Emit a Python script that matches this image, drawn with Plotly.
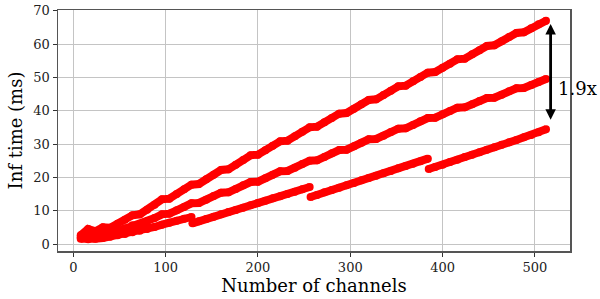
import plotly.graph_objects as go

# Number of channels (shared grid for the two upper series)
channels = list(range(8, 513, 8))

# Upper series (ms)
top_ms = [2.6, 4.5, 3.8, 5.0, 4.9, 6.1, 7.3, 8.6, 8.9, 10.3, 11.8, 13.4,
          13.6, 15.0, 16.4, 17.8, 18.0, 19.4, 20.8, 22.2, 22.4, 23.8, 25.2, 26.6,
          26.8, 28.1, 29.5, 30.8, 31.0, 32.3, 33.7, 35.0, 35.2, 36.5, 37.8, 39.1,
          39.3, 40.6, 41.9, 43.2, 43.4, 44.7, 46.0, 47.3, 47.5, 48.8, 50.1, 51.4,
          51.6, 52.9, 54.1, 55.4, 55.6, 56.9, 58.1, 59.4, 59.6, 60.8, 62.1, 63.3,
          63.5, 64.7, 65.9, 67.0]

# Middle series (ms)
mid_ms = [2.0, 2.6, 2.3, 3.1, 3.0, 3.8, 4.7, 5.6, 5.8, 6.8, 7.8, 8.9,
          9.1, 10.1, 11.1, 12.2, 12.3, 13.3, 14.4, 15.4, 15.5, 16.5, 17.6, 18.6,
          18.7, 19.7, 20.8, 21.8, 21.9, 22.9, 24.0, 25.0, 25.1, 26.1, 27.2, 28.2,
          28.3, 29.3, 30.4, 31.4, 31.5, 32.5, 33.6, 34.6, 34.7, 35.7, 36.8, 37.8,
          37.9, 38.9, 39.9, 40.9, 41.0, 41.9, 42.9, 43.8, 43.9, 44.8, 45.8, 46.7,
          46.8, 47.7, 48.6, 49.5]

# Lower series: four pieces (channels, ms)
low_channels = [8, 16, 24, 32, 40, 48, 56, 64, 72, 80, 88, 96, 104, 112, 120, 128,
                129, 136, 144, 152, 160, 168, 176, 184, 192, 200, 208, 216, 224, 232, 240, 248, 256,
                257, 264, 272, 280, 288, 296, 304, 312, 320, 328, 336, 344, 352, 360, 368, 376, 384,
                385, 392, 400, 408, 416, 424, 432, 440, 448, 456, 464, 472, 480, 488, 496, 504, 512]
low_ms = [1.6, 1.4, 1.6, 1.8, 2.2, 2.6, 3.0, 3.5, 4.0, 4.5, 5.1, 5.8, 6.4, 7.0, 7.6, 8.1,
          6.2, 6.8, 7.5, 8.2, 8.9, 9.6, 10.2, 10.9, 11.6, 12.3, 13.0, 13.7, 14.3, 15.0, 15.7, 16.4, 17.1,
          14.1, 14.7, 15.5, 16.2, 16.9, 17.6, 18.3, 19.1, 19.8, 20.5, 21.2, 21.9, 22.7, 23.4, 24.1, 24.8, 25.6,
          22.5, 23.1, 23.8, 24.6, 25.3, 26.1, 26.8, 27.5, 28.3, 29.0, 29.8, 30.5, 31.2, 32.0, 32.7, 33.5, 34.4]

# Speed-up annotation
ratio_label = "1.9x"
arrow_channel = 517
arrow_top_ms = 66.0
arrow_bottom_ms = 36.8

x_ticks = [0, 100, 200, 300, 400, 500]
y_ticks = [0, 10, 20, 30, 40, 50, 60, 70]

RED = "#ff0000"
FONT = "DejaVu Serif"

# break the lower series where a new piece starts
lx, ly = [], []
for i, (c, v) in enumerate(zip(low_channels, low_ms)):
    if i > 0 and v < low_ms[i - 1] - 1.5:
        lx.append(None)
        ly.append(None)
    lx.append(c)
    ly.append(v)

fig = go.Figure()
for xs, ys in [(channels, top_ms), (channels, mid_ms), (lx, ly)]:
    fig.add_trace(go.Scatter(
        x=xs, y=ys, mode="lines+markers",
        line=dict(color=RED, width=8),
        marker=dict(color=RED, size=8, line=dict(width=0)),
        connectgaps=False, showlegend=False, hoverinfo="skip",
    ))

fig.add_annotation(
    x=arrow_channel, y=arrow_top_ms, ax=arrow_channel, ay=arrow_bottom_ms,
    xref="x", yref="y", axref="x", ayref="y", text="", showarrow=True,
    arrowhead=2, arrowsize=0.75, arrowwidth=2.8, arrowcolor="black",
    arrowside="end+start", startarrowhead=2, startarrowsize=0.75,
    standoff=0, startstandoff=0,
)
fig.add_annotation(
    x=523, y=46.8, xref="x", yref="y", text=ratio_label, showarrow=False,
    xanchor="left", yanchor="middle", font=dict(family=FONT, size=18, color="black"),
)

axis_common = dict(
    showgrid=True, gridcolor="#c4c4c4", gridwidth=1,
    showline=True, linecolor="#555555", linewidth=1.5, mirror=True,
    ticks="outside", ticklen=4, tickwidth=1, tickcolor="#333333",
    tickfont=dict(family=FONT, size=13, color="#222222"),
    zeroline=False, automargin=False,
)

fig.update_xaxes(
    range=[-16.6, 538], tickvals=x_ticks, ticktext=[str(t) for t in x_ticks],
    title=dict(text="Number of channels", font=dict(family=FONT, size=18, color="black"), standoff=4),
    **axis_common,
)
fig.update_yaxes(
    range=[-2.1, 70.2], tickvals=y_ticks, ticktext=[str(t) for t in y_ticks],
    title=dict(text="Inf time (ms)", font=dict(family=FONT, size=18, color="black"), standoff=6),
    **axis_common,
)

fig.update_layout(
    width=600, height=299,
    margin=dict(l=57.5, r=30, t=10, b=48),
    paper_bgcolor="white", plot_bgcolor="white",
    font=dict(family=FONT),
)

# remove the page's default body margin so the figure sits at the window corner
fig.write_html(
    "out.html",
    config={"displayModeBar": False, "staticPlot": True},
    post_script="document.body.style.margin='0';document.body.style.overflow='hidden';",
)
